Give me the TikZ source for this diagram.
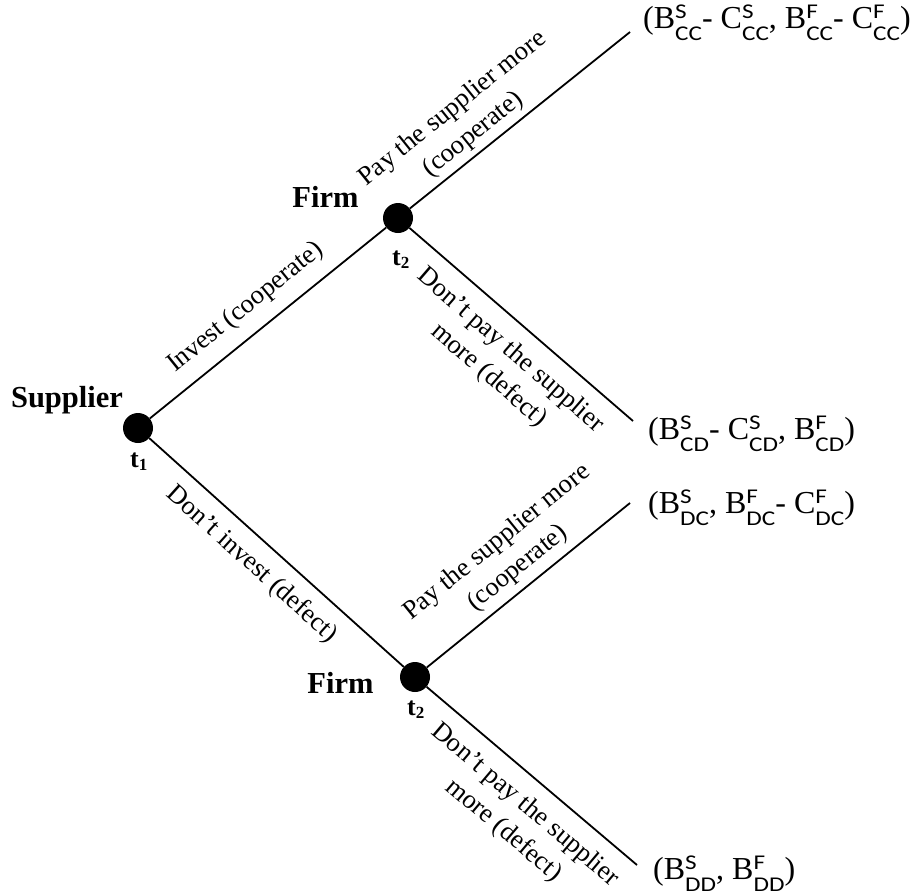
\documentclass[tikz,border=0pt]{standalone}
\usepackage{fontspec}
\usepackage{graphicx}
\setmainfont{Liberation Serif}
\newfontfamily\scrf{Carlito}
\newcommand\scrsz[1]{\scalebox{1.2}[1]{\scrf\fontsize{21}{21}\selectfont #1}}
\newcommand\pw[3]{#1\makebox[0pt][l]{\raisebox{10pt}{\scrsz{#2}}}{\raisebox{-12pt}{\scrsz{#3}}}}
\newcommand\tsub[1]{t\raisebox{-3pt}{\fontsize{17}{17}\selectfont #1}}
\begin{document}
\begin{tikzpicture}[x=1pt,y=-1pt,
  dot/.style={circle,fill=black,inner sep=0pt,minimum size=30pt},
  edge/.style={line width=1.8pt},
  lab/.style={font=\fontsize{26.5}{33}\selectfont, sloped, inner sep=0pt, align=center},
  who/.style={font=\bfseries\fontsize{30.5}{30}\selectfont, inner sep=0pt, anchor=base},
  tt/.style={font=\bfseries\fontsize{26}{26}\selectfont, inner sep=0pt, anchor=base west},
  payoff/.style={font=\fontsize{32}{32}\selectfont, inner sep=0pt, anchor=base west}]
\useasboundingbox (0,0) rectangle (912,895);
\node[dot] (t1) at (138,428) {};
\node[dot] (f1) at (398,218) {};
\node[dot] (f2) at (415,677) {};
\coordinate (lcc) at (630,32);
\coordinate (lcd) at (633,421);
\coordinate (ldc) at (630,503);
\coordinate (ldd) at (637,865);
\draw[edge] (t1) -- node[lab,pos=0.475,above=13pt]{Invest (cooperate)} (f1);
\draw[edge] (t1) -- node[lab,pos=0.47,below=12.5pt]{Don’t invest (defect)} (f2);
\draw[edge] (f1) -- node[lab,pos=0.34,above=5pt]{Pay the supplier more\\(cooperate)} (lcc);
\draw[edge] (f1) -- node[lab,pos=0.53,below=14pt]{Don’t pay the supplier\\more (defect)} (lcd);
\draw[edge] (f2) -- node[lab,pos=0.51,above=7pt]{Pay the supplier more\\(cooperate)} (ldc);
\draw[edge] (f2) -- node[lab,pos=0.55,below=14pt]{Don’t pay the supplier\\more (defect)} (ldd);
\node[payoff] (pcc) at (643,28) {(\pw{B}{S}{CC}- \pw{C}{S}{CC}, \pw{B}{F}{CC}- \pw{C}{F}{CC})};
\node[payoff] (pcd) at (648,439) {(\pw{B}{S}{CD}- \pw{C}{S}{CD}, \pw{B}{F}{CD})};
\node[payoff] (pdc) at (648,513) {(\pw{B}{S}{DC}, \pw{B}{F}{DC}- \pw{C}{F}{DC})};
\node[payoff] (pdd) at (653,879) {(\pw{B}{S}{DD}, \pw{B}{F}{DD})};
\node[who] (sup) at (67,407) {Supplier};
\node[who] (firm1) at (325.5,207) {Firm};
\node[who] (firm2) at (340.5,693) {Firm};
\node[tt] (tl1) at (130,467) {\tsub{1}};
\node[tt] (tl2) at (392,265) {\tsub{2}};
\node[tt] (tl3) at (407,715) {\tsub{2}};
\end{tikzpicture}
\end{document}
